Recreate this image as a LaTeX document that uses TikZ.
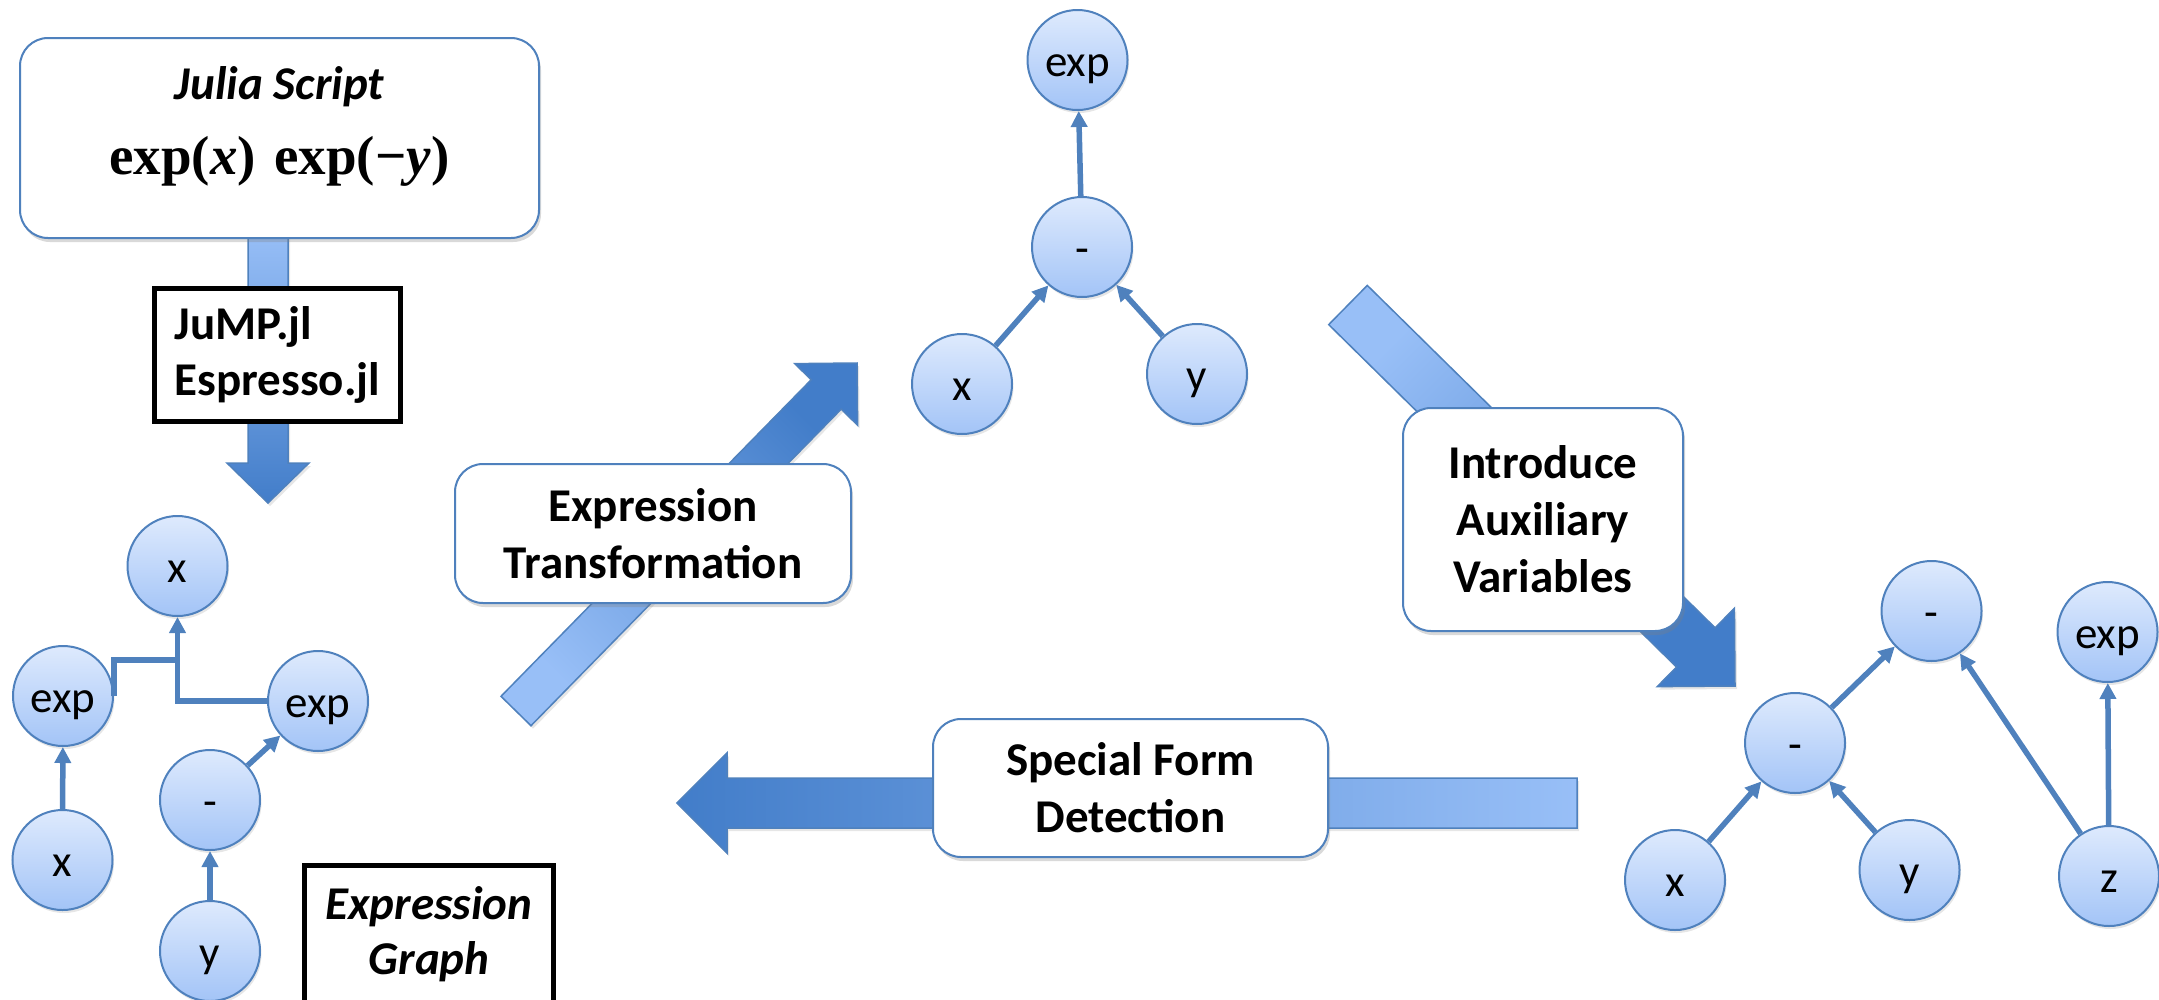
\documentclass[tikz,border=0pt]{standalone}
\usepackage{fontspec}
\setmainfont{Carlito}
\newfontfamily\formfont{Liberation Serif}
\usetikzlibrary{arrows.meta,positioning,calc,shadows,backgrounds}
\definecolor{gblue}{RGB}{79,129,189}
\definecolor{vtop}{RGB}{222,234,253}
\definecolor{vbot}{RGB}{163,196,247}
\definecolor{alight}{RGB}{152,191,247}
\definecolor{adark}{RGB}{66,125,201}
\tikzset{
  vnode/.style={circle,draw=gblue,line width=2pt,top color=vtop,bottom color=vbot,
    minimum size=100pt,inner sep=0pt,text height=36pt,text depth=3pt,
    font=\fontsize{45}{54}\selectfont,
    drop shadow={shadow xshift=1.5pt,shadow yshift=-3pt,opacity=0.2}},
  gedge/.style={-{Triangle[length=16pt,width=16pt]},line width=5.5pt,draw=gblue},
  gline/.style={line width=5.5pt,draw=gblue},
  opbox/.style={rectangle,rounded corners=28pt,draw=gblue,line width=2pt,fill=white,
    align=center,font=\fontsize{47}{57}\selectfont\bfseries,
    drop shadow={shadow xshift=2pt,shadow yshift=-4pt,opacity=0.3}},
  tagbox/.style={rectangle,draw=black,line width=5pt,fill=white,
    font=\fontsize{47}{56}\selectfont\bfseries},
  bigarrow/.style={draw=gblue,line width=1.5pt,top color=alight,bottom color=adark,
    drop shadow={shadow xshift=2pt,shadow yshift=-3pt,opacity=0.2}}
}
% block arrow: [shading], tail, tip, half shaft, half head, head length
\newcommand{\bigarrowpath}[6][]{%
  \coordinate (hb) at ($(#3)!#6!(#2)$);
  \path[bigarrow,#1] ($(#2)!#4!90:(#3)$) -- ($(hb)!#4!90:(#3)$) -- ($(hb)!#5!90:(#3)$)
    -- (#3) -- ($(hb)!#5!-90:(#3)$) -- ($(hb)!#4!-90:(#3)$) -- ($(#2)!#4!-90:(#3)$) -- cycle;
}

\begin{document}
\begin{tikzpicture}[x=1pt,y=-1pt]
  \useasboundingbox (0,0) rectangle (2159,999);

  % boxes
  \node[opbox,minimum width=519pt,minimum height=200pt] (julia) at (279.5,138)
    {{\itshape Julia Script}\\[18pt]{\formfont\fontsize{55}{60}\selectfont exp(\textit{x})\,\,exp(−\textit{y})\rule[-34pt]{0pt}{1pt}}};
  \node[tagbox,align=left,minimum width=246pt,minimum height=133pt] (jump) at (277.5,355)
    {JuMP.jl\\Espresso.jl};
  \node[tagbox,align=center,minimum width=249pt,minimum height=138pt,font=\fontsize{47}{55}\selectfont\bfseries\itshape]
    (exgraph) at (429,934) {Expression\\Graph};
  \node[opbox,minimum width=396pt,minimum height=139pt] (trans) at (653,533.5)
    {Expression\\Transformation};
  \node[opbox,minimum width=280pt,minimum height=223pt] (intro) at (1543,519.5)
    {Introduce\\Auxiliary\\Variables};
  \node[opbox,minimum width=395pt,minimum height=138pt] (special) at (1130.5,788)
    {Special Form\\Detection};

  % expression graph
  \node[vnode] (gX)    at (177.5,566) {x};
  \node[vnode] (gExpA) at (63,696)    {exp};
  \node[vnode] (gExpB) at (318,701)   {exp};
  \node[vnode] (gXb)   at (62.5,860)  {x};
  \node[vnode] (gNeg)  at (210,800)   {-};
  \node[vnode] (gY)    at (210,951)   {y};
  \coordinate (jn) at (gX.south |- 0,660);
  \draw[gline] (gExpA.east) |- (jn);
  \draw[gedge] (gExpB.west) -| (gX.south);

  % transformed graph
  \node[vnode] (tExp) at (1077.5,60) {exp};
  \node[vnode] (tNeg) at (1082,247)  {-};
  \node[vnode] (tX)   at (962,384)   {x};
  \node[vnode] (tY)   at (1197,374)  {y};

  % graph with auxiliary variable
  \node[vnode] (rNeg) at (1931.5,611) {-};
  \node[vnode] (rExp) at (2107.5,632) {exp};
  \node[vnode] (rSub) at (1795,743)   {-};
  \node[vnode] (rX)   at (1675,880)   {x};
  \node[vnode] (rY)   at (1909.5,870) {y};
  \node[vnode] (rZ)   at (2109,876)   {z};

  \foreach \a/\b in {gXb/gExpA,gNeg/gExpB,gY/gNeg,tNeg/tExp,tX/tNeg,tY/tNeg,
                     rX/rSub,rY/rSub,rSub/rNeg,rZ/rNeg,rZ/rExp}
    \draw[gedge] (\a) -- (\b);

  % big arrows behind the boxes
  \coordinate (jtail) at (268,230);  \coordinate (jtip) at (268,503);
  \coordinate (ttail) at (516,711);  \coordinate (ttip) at (857,363);
  \coordinate (itail) at (1348,305); \coordinate (itip) at (1735,686);
  \coordinate (stail) at (1577,803); \coordinate (stip) at (677,803);
  \begin{pgfonlayer}{background}
    \bigarrowpath[shading angle=0]{jtail}{jtip}{20pt}{41pt}{40pt}
    \bigarrowpath[shading angle=135]{ttail}{ttip}{21pt}{44pt}{44pt}
    \bigarrowpath[shading angle=45]{itail}{itip}{27.5pt}{55pt}{55pt}
    \bigarrowpath[shading angle=-90]{stail}{stip}{25pt}{50pt}{50pt}
  \end{pgfonlayer}
\end{tikzpicture}
\end{document}
